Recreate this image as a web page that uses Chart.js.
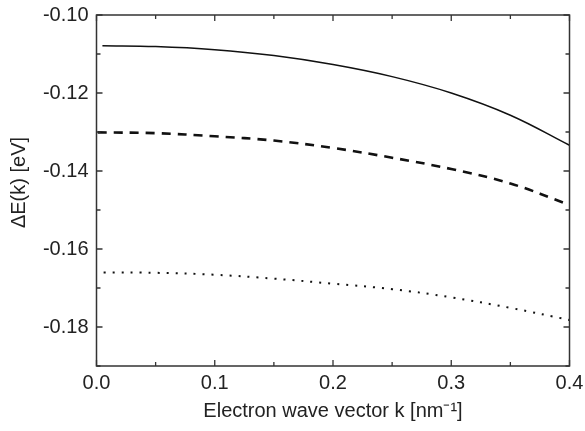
<!DOCTYPE html>
<html>
<head>
<meta charset="utf-8">
<script src="https://cdn.jsdelivr.net/npm/chart.js@4"></script>
<style>
  html, body { margin: 0; padding: 0; background: #fff; }
  #wrap { width: 585px; height: 431px; }
</style>
</head>
<body>
<div id="wrap"><canvas id="chart" width="585" height="431"></canvas></div>
<script>
// values
const kSolid  = [0.005, 0.05, 0.1, 0.15, 0.2, 0.25, 0.3, 0.35, 0.4];
const eSolid  = [-0.1079, -0.1081, -0.1089, -0.1104, -0.1127, -0.1158, -0.1200, -0.1257, -0.1334];
const kDashed = [0.001, 0.05, 0.1, 0.15, 0.2, 0.25, 0.3, 0.35, 0.4];
const eDashed = [-0.1301, -0.1303, -0.1311, -0.1322, -0.1341, -0.1366, -0.1395, -0.1432, -0.1487];
const kDotted = [0.006, 0.05, 0.1, 0.15, 0.2, 0.25, 0.3, 0.35, 0.4];
const eDotted = [-0.1660, -0.1661, -0.1666, -0.1676, -0.1689, -0.1703, -0.1724, -0.1751, -0.1782];

const xTicks = [0.0, 0.1, 0.2, 0.3, 0.4];
const yTicks = [-0.10, -0.12, -0.14, -0.16, -0.18];
const yTitle = 'ΔE(k) [eV]';

const pts = (ks, es) => ks.map((k, i) => ({ x: k, y: es[i] }));

const textColor = '#222';
const fontFam = '"Liberation Sans", Arial, sans-serif';

// frame + inward ticks on all four sides, plus the y title
const frameTicks = {
  id: 'frameTicks',
  afterDraw(chart) {
    const { ctx, chartArea: a, scales: { x, y } } = chart;
    ctx.save();
    ctx.strokeStyle = '#333';
    ctx.lineWidth = 1.5;
    ctx.strokeRect(a.left, a.top, a.right - a.left, a.bottom - a.top);
    ctx.lineWidth = 1.3;
    ctx.beginPath();
    for (let i = 0; i <= 8; i++) {
      const px = x.getPixelForValue(i * 0.05);
      const len = i % 2 === 0 ? 6 : 4;
      ctx.moveTo(px, a.bottom); ctx.lineTo(px, a.bottom - len);
      ctx.moveTo(px, a.top); ctx.lineTo(px, a.top + len);
    }
    for (let i = 10; i <= 19; i++) {
      const py = y.getPixelForValue(-i / 100);
      const len = i % 2 === 0 ? 6 : 4;
      ctx.moveTo(a.left, py); ctx.lineTo(a.left + len, py);
      ctx.moveTo(a.right, py); ctx.lineTo(a.right - len, py);
    }
    ctx.stroke();

    // y title sits a bit above the axis middle in the original
    ctx.translate(19, 182.5);
    ctx.rotate(-Math.PI / 2);
    ctx.fillStyle = textColor;
    ctx.font = '20px ' + fontFam;
    ctx.textAlign = 'center';
    ctx.textBaseline = 'middle';
    ctx.fillText(yTitle, 0, 0);
    ctx.restore();
  }
};

const ctx = document.getElementById('chart').getContext('2d');
new Chart(ctx, {
  type: 'line',
  data: {
    datasets: [
      { data: pts(kSolid, eSolid), borderColor: '#111', borderWidth: 1.5 },
      { data: pts(kDashed, eDashed), borderColor: '#111', borderWidth: 2.6, borderDash: [9, 7] },
      { data: pts(kDotted, eDotted), borderColor: '#111', borderWidth: 2, borderDash: [2, 7] }
    ]
  },
  options: {
    responsive: false,
    animation: false,
    layout: { padding: { top: 15, right: 15.5, left: 0, bottom: 0 } },
    elements: {
      point: { radius: 0 },
      line: { tension: 0.4, fill: false }
    },
    plugins: { legend: { display: false }, tooltip: { enabled: false } },
    scales: {
      x: {
        type: 'linear',
        min: 0, max: 0.4,
        afterBuildTicks: s => { s.ticks = xTicks.map(v => ({ value: v })); },
        afterFit: s => { s.height = 65; s.paddingLeft = 0; s.paddingRight = 0; },
        grid: { display: false, drawTicks: false },
        border: { display: false },
        ticks: {
          color: textColor,
          font: { family: fontFam, size: 20 },
          padding: 5,
          maxRotation: 0,
          callback: v => Number(v).toFixed(1)
        },
        title: {
          display: true,
          text: 'Electron wave vector k [nm⁻¹]',
          color: textColor,
          font: { family: fontFam, size: 20 },
          padding: { top: 4, bottom: 8 }
        }
      },
      y: {
        type: 'linear',
        min: -0.19, max: -0.10,
        afterBuildTicks: s => { s.ticks = yTicks.map(v => ({ value: v })); },
        afterFit: s => { s.width = 96.5; s.paddingTop = 0; s.paddingBottom = 0; },
        grid: { display: false, drawTicks: false },
        border: { display: false },
        ticks: {
          color: textColor,
          font: { family: fontFam, size: 20 },
          padding: 8,
          callback: v => Number(v).toFixed(2)
        },
        title: { display: false }
      }
    }
  },
  plugins: [frameTicks]
});
</script>
</body>
</html>
